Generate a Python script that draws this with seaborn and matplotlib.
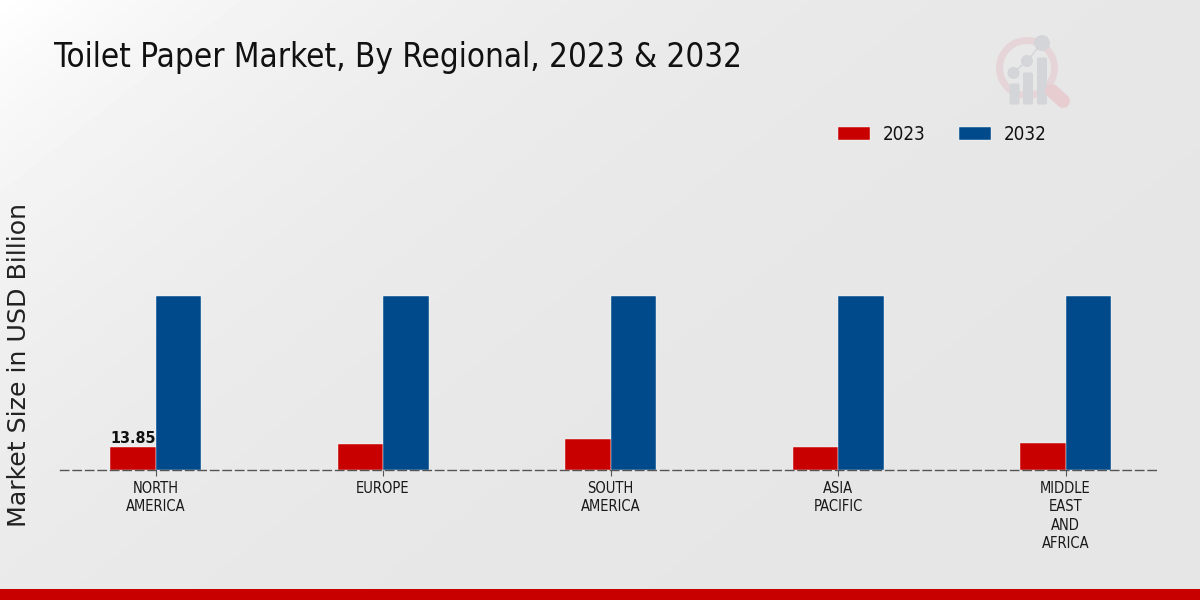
import numpy as np
import pandas as pd
import matplotlib
matplotlib.use("Agg")
import matplotlib.pyplot as plt
from matplotlib.patches import Circle, Wedge, FancyBboxPatch
from matplotlib.lines import Line2D
import seaborn as sns

regions = ["NORTH\nAMERICA", "EUROPE", "SOUTH\nAMERICA", "ASIA\nPACIFIC", "MIDDLE\nEAST\nAND\nAFRICA"]
years = ["2023", "2032"]
values_2023 = [13.85, 15.6, 18.6, 13.6, 16.2]
values_2032 = [104.6, 104.6, 104.6, 104.6, 104.6]
title = "Toilet Paper Market, By Regional, 2023 & 2032"
ylabel = "Market Size in USD Billion"
colors = ["#c80000", "#004a8c"]

df = pd.DataFrame({
    "region": regions * 2,
    "year": [years[0]] * 5 + [years[1]] * 5,
    "value": values_2023 + values_2032,
})

sns.set_theme(style="white")
plt.rcParams["font.family"] = ["DejaVu Sans"]
W, H = 1200, 600
fig = plt.figure(figsize=(12, 6), dpi=100)

# background gradient
bg = fig.add_axes([0, 0, 1, 1], zorder=0)
bg.set_axis_off()
yy, xx = np.mgrid[0:H, 0:W]
s = xx * 0.8 + yy * 1.0
shade = 0.898 + 0.102 * np.exp(-s / 350.0)
bg.imshow(shade, cmap="gray", vmin=0, vmax=1, extent=(0, W, H, 0), aspect="auto", interpolation="bilinear")
bg.set_xlim(0, W)
bg.set_ylim(H, 0)
# bottom band
bg.fill_between([0, W], 589, 600, color="#c80000", lw=0)
# logo
ring, grey = "#e6d5d8", "#d3d5d8"
bg.add_patch(Wedge((1027, 68), 31, 0, 360, width=7, color=ring, lw=0))
bg.add_line(Line2D([1052, 1063], [91, 101], color="#e8cdd0", lw=10, solid_capstyle="round"))
bg.add_line(Line2D([1013, 1027, 1042], [73, 61, 43], color=grey, lw=1))
for cx, top, r, cy in [(1014.5, 82, 6, 73), (1028, 71, 6, 61), (1042, 56, 8, 43)]:
    bg.add_patch(FancyBboxPatch((cx - 3.5, top + 3), 7, 105 - top - 5, boxstyle="round,pad=1.5", color=grey, lw=0))
    bg.add_patch(Circle((cx - 1 if r == 6 else cx, cy), r, color=grey, lw=0))

# main axes
ax = fig.add_axes([60 / W, (H - 470) / H, 1100 / W, 300 / H], zorder=1)
ax.patch.set_alpha(0)
sns.barplot(data=df, x="region", y="value", hue="year", palette=colors, width=0.4, gap=0,
            saturation=1, edgecolor="white", linewidth=0.3, ax=ax, legend=True)
ax.set_xlim(-0.42, 4.415)
ax.set_ylim(0, 180)
ax.set_xlabel("")
ax.set_ylabel("")
ax.set_yticks([])
for sp in ["top", "left", "right"]:
    ax.spines[sp].set_visible(False)
ax.spines["bottom"].set_linestyle((0, (6, 3)))
ax.spines["bottom"].set_color("#555555")
ax.spines["bottom"].set_linewidth(1)
ax.tick_params(axis="x", length=4, width=0.8, color="#555555", pad=4, bottom=True)
cond = dict(family="DejaVu Sans", stretch="condensed")
for lab in ax.get_xticklabels():
    lab.set(fontsize=10.5, color="#1a1a1a", linespacing=1.28, **cond)

ax.bar_label(ax.containers[0], labels=[f"{values_2023[0]:.2f}"] + [""] * 4, fontsize=11.5,
             fontweight="bold", color="#111111", padding=1, **cond)

handles, labels = ax.get_legend_handles_labels()
ax.get_legend().remove()
leg = fig.legend(handles, labels, ncol=2, frameon=False, loc="center left",
                 bbox_to_anchor=(821 / W, 1 - 134.5 / H), fontsize=13.5,
                 handlelength=1.71, handleheight=0.69, handletextpad=0.69, columnspacing=1.76)
for t in leg.get_texts():
    t.set(color="#111111", **cond)

fig.text(54 / W, 1 - 57 / H, title, fontsize=23.8, color="#111111", va="center", ha="left", **cond)
fig.text(19 / W, 1 - 365 / H, ylabel, fontsize=18.2, color="#222222", rotation=90, va="center", ha="center")

fig.savefig("out.png", dpi=100)
